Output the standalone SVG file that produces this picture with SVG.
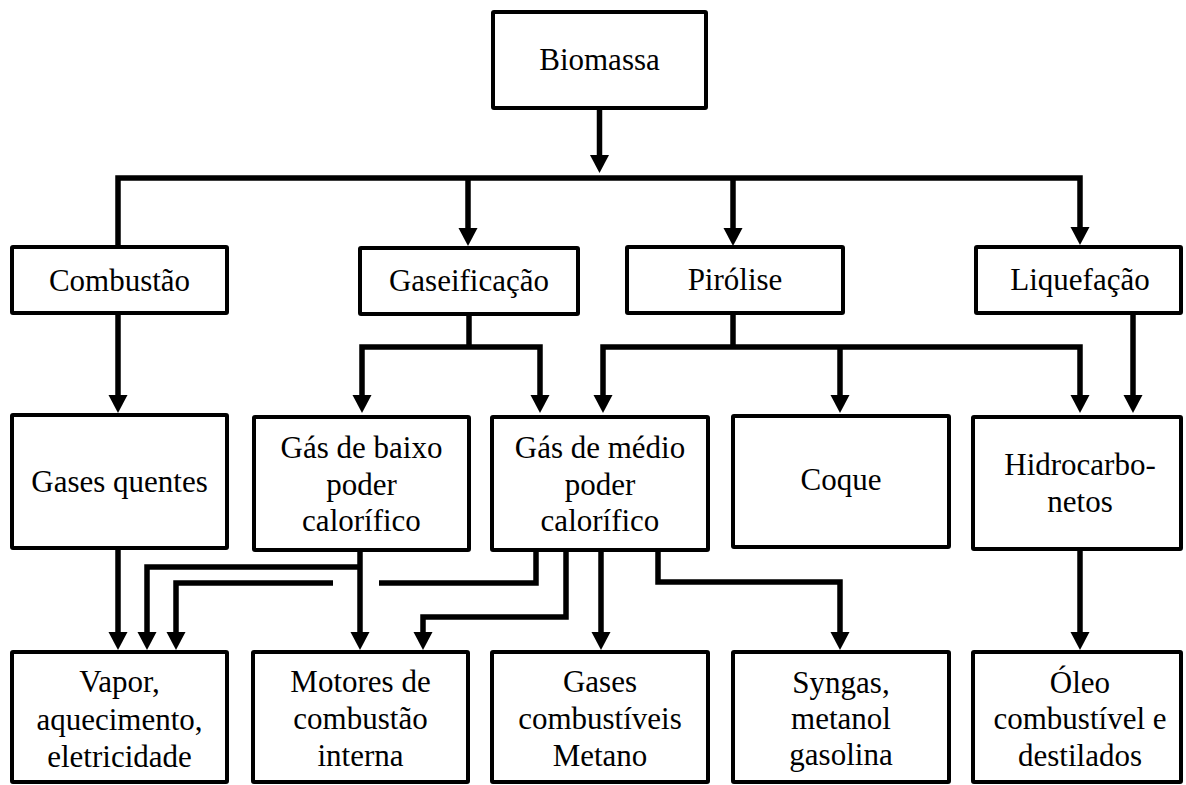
<svg xmlns="http://www.w3.org/2000/svg" width="1186" height="785" viewBox="0 0 1186 785">
<style>
.box{fill:#fff;stroke:#000;stroke-width:4}
.c{fill:none;stroke:#000;stroke-width:5.5;stroke-linejoin:miter;marker-end:url(#ah)}
.l{fill:none;stroke:#000;stroke-width:5.5;stroke-linejoin:miter}
</style>
<defs>
<marker id="ah" markerUnits="userSpaceOnUse" markerWidth="20" markerHeight="20" viewBox="0 0 20 20" refX="8" refY="10" orient="auto">
<path d="M0,0.5 L18,10 L0,19.5 z" fill="#000"/>
</marker>
</defs>
<rect width="1186" height="785" fill="#fff"/>
<g id="connectors">
<path class="c" d="M599.5 108 V163"/>
<path class="c" d="M118 247 V178 H1080 V235"/>
<path class="c" d="M468 178 V236"/>
<path class="c" d="M733 178 V236"/>
<path class="c" d="M118 313 V403"/>
<path class="l" d="M469 313 V347"/>
<path class="c" d="M469 347 H362 V403"/>
<path class="c" d="M469 347 H540 V403"/>
<path class="l" d="M733 313 V347"/>
<path class="c" d="M733 347 H603 V403"/>
<path class="c" d="M733 347 H1080 V403"/>
<path class="c" d="M840 347 V403"/>
<path class="c" d="M1133 313 V403"/>
<path class="c" d="M118 549 V640"/>
<path class="c" d="M360 550 V640"/>
<path class="c" d="M360 567 H147 V640"/>
<path class="l" d="M536 550 V583 H379"/>
<path class="c" d="M333 583 H176 V640"/>
<path class="c" d="M566 550 V617 H423 V640"/>
<path class="c" d="M601 550 V640"/>
<path class="c" d="M658 550 V582 H840 V640"/>
<path class="c" d="M1080 549 V640"/>
</g>
<g font-family="Liberation Serif" font-size="31" text-anchor="middle" fill="#000">
<g id="biomassa"><rect class="box" x="493" y="12" width="213" height="96" rx="1"/><text font-family="Liberation Serif" x="599.5" y="70">Biomassa</text></g>
<g id="combustao"><rect class="box" x="12" y="247" width="215" height="66" rx="1"/><text font-family="Liberation Serif" x="119.5" y="291">Combust&#227;o</text></g>
<g id="gaseificacao"><rect class="box" x="360" y="248" width="218" height="66" rx="1"/><text font-family="Liberation Serif" x="469" y="291">Gaseifica&#231;&#227;o</text></g>
<g id="pirolise"><rect class="box" x="627" y="247" width="216" height="66" rx="1"/><text font-family="Liberation Serif" x="735" y="290">Pir&#243;lise</text></g>
<g id="liquefacao"><rect class="box" x="976" y="247" width="205" height="66" rx="1"/><text font-family="Liberation Serif" x="1080" y="290">Liquefa&#231;&#227;o</text></g>
<g id="gases-quentes"><rect class="box" x="12" y="415" width="215" height="133" rx="1"/><text font-family="Liberation Serif" x="119.5" y="492">Gases quentes</text></g>
<g id="gas-baixo"><rect class="box" x="254" y="417" width="215" height="133" rx="1"/><text font-family="Liberation Serif" x="361.5" y="458">G&#225;s de baixo</text><text font-family="Liberation Serif" x="361.5" y="495">poder</text><text font-family="Liberation Serif" x="361.5" y="531">calor&#237;fico</text></g>
<g id="gas-medio"><rect class="box" x="492" y="417" width="216" height="133" rx="1"/><text font-family="Liberation Serif" x="600" y="458">G&#225;s de m&#233;dio</text><text font-family="Liberation Serif" x="600" y="495">poder</text><text font-family="Liberation Serif" x="600" y="531">calor&#237;fico</text></g>
<g id="coque"><rect class="box" x="733" y="416" width="216" height="131" rx="1"/><text font-family="Liberation Serif" x="841" y="490">Coque</text></g>
<g id="hidrocarbonetos"><rect class="box" x="973" y="417" width="208" height="132" rx="1"/><text font-family="Liberation Serif" x="1080" y="475">Hidrocarbo-</text><text font-family="Liberation Serif" x="1080" y="512">netos</text></g>
<g id="vapor"><rect class="box" x="12" y="652" width="215" height="130" rx="1"/><text font-family="Liberation Serif" x="119.5" y="692">Vapor,</text><text font-family="Liberation Serif" x="119.5" y="730">aquecimento,</text><text font-family="Liberation Serif" x="119.5" y="767">eletricidade</text></g>
<g id="motores"><rect class="box" x="253" y="652" width="215" height="130" rx="1"/><text font-family="Liberation Serif" x="360.5" y="692">Motores de</text><text font-family="Liberation Serif" x="360.5" y="729">combust&#227;o</text><text font-family="Liberation Serif" x="360.5" y="766">interna</text></g>
<g id="gases-combustiveis"><rect class="box" x="492" y="652" width="216" height="130" rx="1"/><text font-family="Liberation Serif" x="600" y="692">Gases</text><text font-family="Liberation Serif" x="600" y="729">combust&#237;veis</text><text font-family="Liberation Serif" x="600" y="766">Metano</text></g>
<g id="syngas"><rect class="box" x="733" y="652" width="216" height="130" rx="1"/><text font-family="Liberation Serif" x="841" y="693">Syngas,</text><text font-family="Liberation Serif" x="841" y="729">metanol</text><text font-family="Liberation Serif" x="841" y="765">gasolina</text></g>
<g id="oleo"><rect class="box" x="973" y="652" width="208" height="130" rx="1"/><text font-family="Liberation Serif" x="1080" y="693">&#211;leo</text><text font-family="Liberation Serif" x="1080" y="729">combust&#237;vel e</text><text font-family="Liberation Serif" x="1080" y="766">destilados</text></g>
</g>
</svg>
